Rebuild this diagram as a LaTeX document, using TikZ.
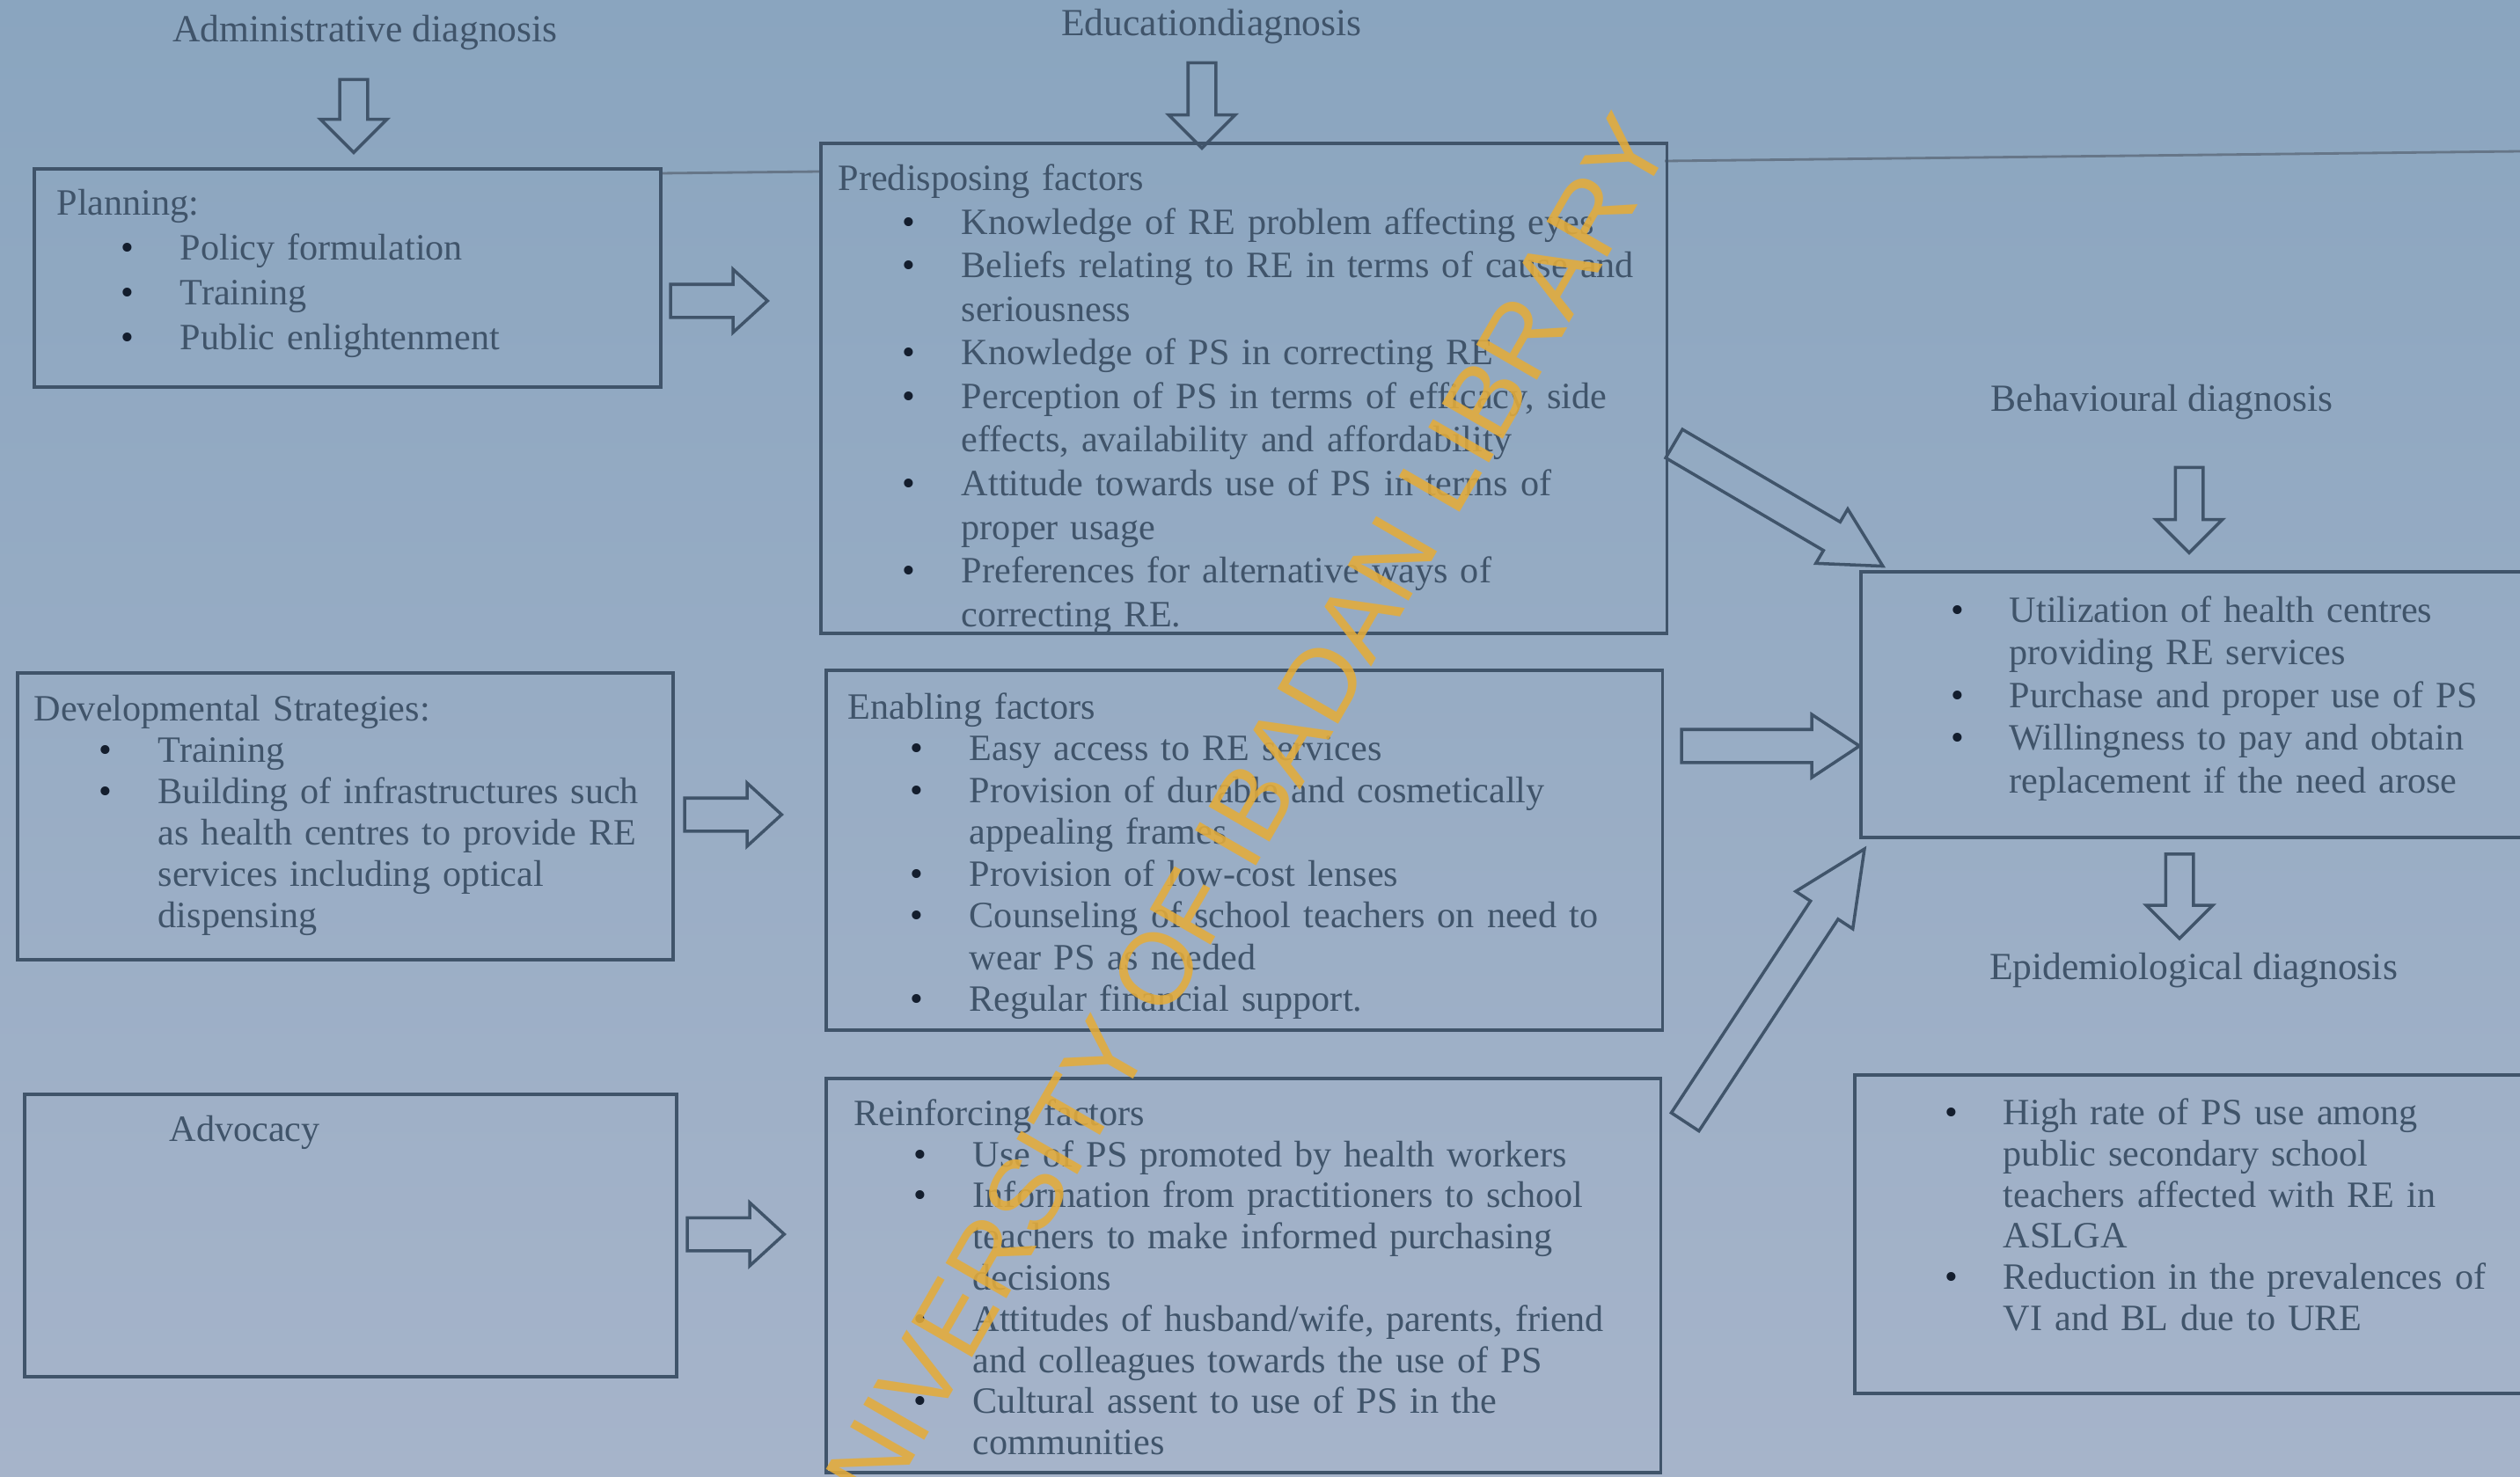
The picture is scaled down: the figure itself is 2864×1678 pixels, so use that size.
\documentclass[tikz,border=0pt]{standalone}
\usepackage{fontspec}
\setmainfont{Liberation Serif}
\newfontfamily\stampfont{Liberation Sans}
\usepackage{enumitem}
\usetikzlibrary{arrows.meta,positioning,shapes.arrows,calc}

\definecolor{paperhigh}{RGB}{138,165,191}
\definecolor{paperlow}{RGB}{166,180,202}
\definecolor{ink}{RGB}{64,84,106}
\definecolor{dotink}{RGB}{20,30,46}
\definecolor{stamp}{RGB}{228,172,58}

\newcommand{\dotmark}{{\color{dotink}\textbullet}}
\setlist[itemize]{label=\dotmark,leftmargin=1.40cm,labelsep=0.52cm,itemsep=0pt,topsep=0pt,parsep=0pt,partopsep=0pt}

\begin{document}
\begin{tikzpicture}[x=0.01cm,y=-0.01cm]
\tikzset{
  factorbox/.style={draw=ink,line width=1.1pt,anchor=north west,inner sep=0pt},
  boxtext/.style={anchor=north west,inner sep=0pt,text width=#1,align=left,text=ink,font=\fontsize{12}{13.7}\selectfont},
  headtext/.style={inner sep=0pt,text=ink,font=\fontsize{12.4}{14}\selectfont},
  hollowarrow/.style={single arrow,draw=ink,line width=1pt,inner xsep=0pt,inner ysep=0.17cm,
    single arrow head extend=0.17cm,single arrow tip angle=85,minimum height=#1},
  downarrow/.style={inner ysep=0.14cm,single arrow head extend=0.22cm,single arrow tip angle=90},
  pageline/.style={draw=ink!80,line width=0.8pt}
}
% paper
\shade[top color=paperhigh,bottom color=paperlow] (0,0) rectangle (2864,1678);
\useasboundingbox (0,0) rectangle (2864,1678);
\draw[pageline] (749,197) -- (931,195);
\draw[pageline] (1892,183) -- (2864,172);

% stage titles
\node[headtext] (t_admin) at (415,37) {Administrative diagnosis};
\node[headtext] (t_edu) at (1377,30) {Educationdiagnosis};
\node[headtext] (t_behav) at (2457,457) {Behavioural diagnosis};
\node[headtext] (t_epi) at (2493,1103) {Epidemiological diagnosis};

% boxes
\node[factorbox,minimum width=7.12cm,minimum height=2.48cm] (n_plan) at (37,190) {};
\node[factorbox,minimum width=9.61cm,minimum height=5.57cm] (n_pred) at (931,161) {};
\node[factorbox,minimum width=7.45cm,minimum height=3.26cm] (n_dev) at (18,763) {};
\node[factorbox,minimum width=9.50cm,minimum height=4.09cm] (n_enab) at (937,760) {};
\node[factorbox,minimum width=7.41cm,minimum height=3.21cm] (n_adv) at (26,1242) {};
\node[factorbox,minimum width=9.48cm,minimum height=4.48cm] (n_reinf) at (937,1224) {};
\node[factorbox,minimum width=7.80cm,minimum height=3.02cm] (n_behav) at (2113,648) {};
\node[factorbox,minimum width=7.90cm,minimum height=3.62cm] (n_epi) at (2106,1220) {};

% box texts
\node[boxtext=6.6cm,font=\fontsize{12}{14.5}\selectfont] (x_plan) at ($(n_plan.north west)+(27,25)$) {Planning:
\begin{itemize}
\item Policy formulation
\item Training
\item Public enlightenment
\end{itemize}};
\node[boxtext=9.2cm,font=\fontsize{12}{14.1}\selectfont] (x_pred) at ($(n_pred.north west)+(21,25)$) {Predisposing factors
\begin{itemize}
\item Knowledge of RE problem affecting eyes
\item Beliefs relating to RE in terms of cause and\\ seriousness
\item Knowledge of PS in correcting RE
\item Perception of PS in terms of efficacy, side\\ effects, availability and affordability
\item Attitude towards use of PS in terms of\\ proper usage
\item Preferences for alternative ways of\\ correcting RE.
\end{itemize}};
\node[boxtext=7.1cm,font=\fontsize{12}{13.4}\selectfont] (x_dev) at ($(n_dev.north west)+(20,26)$) {Developmental Strategies:
\begin{itemize}[leftmargin=1.41cm]
\item Training
\item Building of infrastructures such\\ as health centres to provide RE\\ services including optical\\ dispensing
\end{itemize}};
\node[boxtext=9.1cm,font=\fontsize{12}{13.5}\selectfont] (x_enab) at ($(n_enab.north west)+(26,27)$) {Enabling factors
\begin{itemize}[leftmargin=1.38cm]
\item Easy access to RE services
\item Provision of durable and cosmetically\\ appealing frames
\item Provision of low-cost lenses
\item Counseling of school teachers on need to\\ wear PS as needed
\item Regular financial support.
\end{itemize}};
\node[boxtext=5cm] (x_adv) at ($(n_adv.north west)+(166,25)$) {Advocacy};
\node[boxtext=9.0cm,font=\fontsize{12}{13.3}\selectfont] (x_reinf) at ($(n_reinf.north west)+(33,25)$) {Reinforcing factors
\begin{itemize}[leftmargin=1.35cm]
\item Use of PS promoted by health workers
\item Information from practitioners to school\\ teachers to make informed purchasing\\ decisions
\item Attitudes of husband/wife, parents, friend\\ and colleagues towards the use of PS
\item Cultural assent to use of PS in the\\ communities
\end{itemize}};
\node[boxtext=7.1cm,font=\fontsize{12}{13.8}\selectfont] (x_behav) at ($(n_behav.north west)+(30,10)$) {%
\begin{itemize}
\item Utilization of health centres\\ providing RE services
\item Purchase and proper use of PS
\item Willingness to pay and obtain\\ replacement if the need arose
\end{itemize}};
\node[boxtext=7.1cm,font=\fontsize{12}{13.3}\selectfont] (x_epi) at ($(n_epi.north west)+(30,11)$) {%
\begin{itemize}
\item High rate of PS use among\\ public secondary school\\ teachers affected with RE in\\ ASLGA
\item Reduction in the prevalences of\\ VI and BL due to URE
\end{itemize}};

% block arrows
\node[hollowarrow=0.83cm,downarrow,rotate=-90] (a_admin) at (402,124) {};
\node[hollowarrow=0.97cm,downarrow,rotate=-90] (a_edu) at (1366,112) {};
\node[hollowarrow=0.97cm,downarrow,rotate=-90] (a_behav) at (2488,572) {};
\node[hollowarrow=0.96cm,downarrow,rotate=-90] (a_epi) at (2477,1011) {};
\node[hollowarrow=1.10cm] (a_plan) at (807,342) {};
\node[hollowarrow=1.10cm] (a_dev) at (823,926) {};
\node[hollowarrow=1.10cm] (a_adv) at (826,1403) {};
\node[hollowarrow=2.02cm,single arrow tip angle=67] (a_enab) at (1998,848) {};
\node[hollowarrow=2.75cm,single arrow tip angle=56,rotate=-30.4] (a_pred) at (2006,565) {};
\node[hollowarrow=3.71cm,single arrow tip angle=50,single arrow head extend=0.20cm,rotate=56.7] (a_reinf) at (2006,1137) {};

% library stamp
\node[anchor=east,rotate=60,inner sep=0pt,text=stamp,opacity=0.88,font=\stampfont\fontsize{33}{33}\selectfont] (w_stamp) at (1868,142) {UNIVERSITY OF IBADAN LIBRARY};
\end{tikzpicture}
\end{document}
